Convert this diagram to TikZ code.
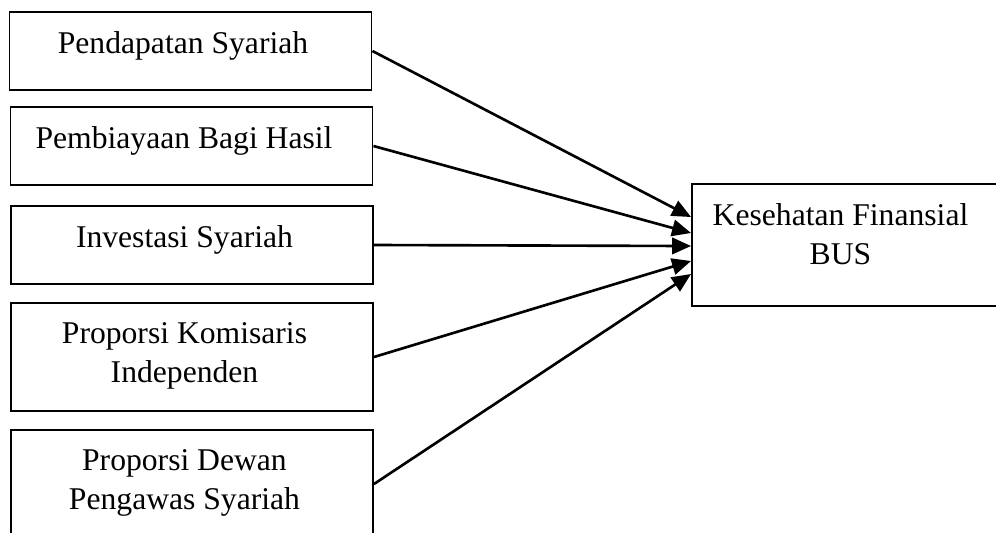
\documentclass[tikz,border=0pt]{standalone}
\usepackage{fontspec}
\setmainfont{Liberation Serif}
\usepackage{tikz}
\usetikzlibrary{arrows.meta,positioning}

\begin{document}
\begin{tikzpicture}[
      box/.style={rectangle, draw, line width=1.1pt, minimum width=7.24cm, minimum height=1.56cm, inner sep=0pt},
      tallbox/.style={box, minimum height=2.16cm},
      lbl/.style={anchor=north, align=center, inner sep=0pt, font=\fontsize{18pt}{22pt}\selectfont},
      link/.style={->, line width=1.5pt},
      >={Triangle[length=3.8mm, width=3.3mm]}]
    \clip (0,0) rectangle (19.92,-10.64);
    % independent variables
    \node[box] (pend) at (3.81,-1.02) {};
    \node[box] (pemb) at (3.83,-2.92) {};
    \node[box] (inv)  at (3.84,-4.90) {};
    \node[tallbox] (kom) at (3.84,-7.14) {};
    \node[tallbox] (dps) at (3.84,-9.68) {};
    % dependent variable
    \node[box, minimum width=6.24cm, minimum height=2.44cm] (kes) at (16.96,-4.90) {};
    \node[lbl] (pendtxt) at ([xshift=-0.15cm, yshift=-0.41cm]pend.north) {Pendapatan Syariah};
    \node[lbl] (pembtxt) at ([xshift=-0.15cm, yshift=-0.41cm]pemb.north) {Pembiayaan Bagi Hasil};
    \node[lbl] (invtxt)  at ([xshift=-0.15cm, yshift=-0.41cm]inv.north)  {Investasi Syariah};
    \node[lbl] (komtxt)  at ([xshift=-0.15cm, yshift=-0.41cm]kom.north)  {Proporsi Komisaris\\Independen};
    \node[lbl] (dpstxt)  at ([xshift=-0.15cm, yshift=-0.41cm]dps.north)  {Proporsi Dewan\\Pengawas Syariah};
    \node[lbl] (kestxt)  at ([xshift=-0.15cm, yshift=-0.41cm]kes.north)  {Kesehatan Finansial\\BUS};
    \draw[link] (pend.east) -- ([yshift=0.56cm]kes.west);
    \draw[link] (pemb.east) -- ([yshift=0.24cm]kes.west);
    \draw[link] (inv.east)  -- ([yshift=-0.02cm]kes.west);
    \draw[link] (kom.east)  -- ([yshift=-0.32cm]kes.west);
    \draw[link] (dps.east)  -- ([yshift=-0.58cm]kes.west);
  \end{tikzpicture}
\end{document}
